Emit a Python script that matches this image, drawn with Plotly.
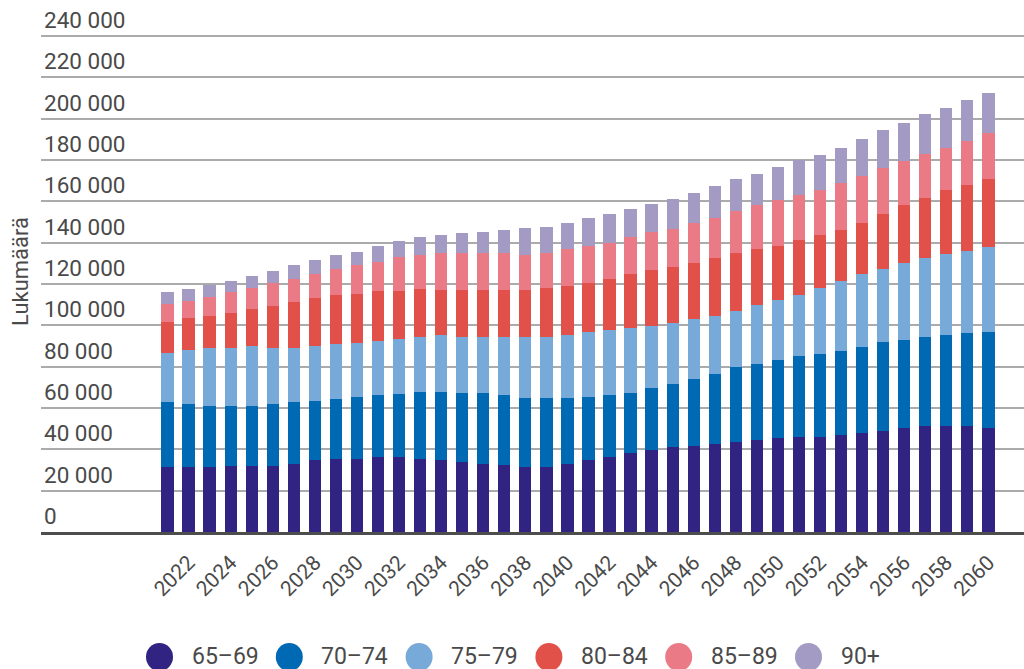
import plotly.graph_objects as go

years = list(range(2021, 2061))
groups = ["65–69", "70–74", "75–79", "80–84", "85–89", "90+"]
colors = ["#312382", "#0069b4", "#78aad9", "#e2504a", "#ea7b86", "#a39bc4"]

age_65_69 = [31300, 31300, 31300, 32100, 32100, 32100, 33100, 34700, 35500, 35500,
             36500, 36500, 35500, 34700, 34100, 33100, 32300, 31500, 31500, 33100,
             34900, 36500, 38300, 39900, 40900, 41700, 42500, 43500, 44300, 45300,
             46100, 46100, 46900, 47700, 48700, 50300, 51100, 51100, 51100, 50300]
age_70_74 = [31500, 30600, 29800, 29000, 29000, 29800, 29700, 28900, 29000, 29800,
             29700, 30500, 32300, 33100, 33100, 34100, 34100, 33100, 33100, 31500,
             30500, 29900, 28900, 29900, 30500, 32300, 34100, 36400, 37200, 38000,
             39000, 39800, 40600, 41600, 43200, 42400, 43400, 44200, 45000, 46600]
age_75_79 = [23700, 26300, 27900, 27900, 28700, 27100, 26300, 26300, 26300, 26300,
             26300, 26300, 26500, 27300, 27100, 27100, 27900, 29700, 29700, 30500,
             31500, 31300, 31300, 29700, 29700, 28900, 27900, 27200, 28100, 28900,
             29700, 32200, 34000, 35600, 35600, 37400, 38100, 39000, 39800, 40800]
age_80_84 = [15300, 15300, 15300, 17100, 17900, 20500, 22100, 23100, 23700, 23700,
             23900, 23200, 23100, 22200, 22900, 22900, 22900, 22900, 23700, 23700,
             23700, 24700, 26300, 27100, 27100, 27100, 28100, 28100, 27200, 26400,
             26300, 25500, 24700, 24700, 26300, 27900, 28900, 31400, 32200, 33100]
age_85_89 = [8600, 8400, 9400, 10200, 10200, 11000, 11100, 11900, 12800, 13800,
             14400, 16700, 16800, 17700, 17800, 17800, 17800, 17000, 17000, 17900,
             17800, 17600, 17900, 18700, 18600, 19500, 19500, 20300, 21300, 21900,
             22100, 22100, 22900, 22900, 22100, 21300, 21300, 20300, 21300, 22300]
age_90_plus = [5800, 5800, 6000, 5000, 6000, 6000, 6800, 6800, 6800, 6600,
               7800, 7800, 8700, 8700, 9500, 10200, 11100, 12800, 12800, 12800,
               13600, 13700, 13600, 13400, 14500, 14400, 15300, 15300, 15200, 16100,
               16600, 16800, 16900, 17700, 18500, 18500, 19500, 19400, 19500, 19300]

series = [age_65_69, age_70_74, age_75_79, age_80_84, age_85_89, age_90_plus]

tick_years = list(range(2022, 2061, 2))
tick_text = [str(y) for y in tick_years]
y_ticks = list(range(0, 240001, 20000))
y_tick_text = [f"{v:,}".replace(",", " ") for v in y_ticks]

# plot area in pixels: x 41..1024, y 2..532
PL, PR, PT, PB = 41, 1024, 2, 532
W, H = 1024, 669
def px_x(px):
    return (px - PL) / (PR - PL)
def px_y(py):
    return (PB - py) / (PB - PT)

fig = go.Figure()
for name, col, vals in zip(groups, colors, series):
    fig.add_trace(go.Bar(
        x=years, y=vals, name=name, marker_color=col, marker_line_width=0,
        width=0.585, showlegend=False,
    ))

# custom legend: large circles + text, laid out in one row under the chart
shapes = []
annotations = []
for i, (name, col) in enumerate(zip(groups, colors)):
    cx = 159.5 + 129.8 * i
    cy = 657
    shapes.append(dict(
        type="circle", xref="paper", yref="paper", xsizemode="pixel", ysizemode="pixel",
        xanchor=px_x(cx), yanchor=px_y(cy), x0=-13.5, x1=13.5, y0=-14, y1=14,
        fillcolor=col, line=dict(width=0), layer="above",
    ))
    annotations.append(dict(
        text=name, xref="paper", yref="paper", x=px_x(cx + 30), y=px_y(cy - 1),
        xanchor="left", yanchor="middle", showarrow=False,
        font=dict(size=23, color="#4a4a4a", family="Roboto"),
    ))

annotations.append(dict(
    text="Lukumäärä", xref="paper", yref="paper", x=px_x(20), y=px_y(272),
    xanchor="center", yanchor="middle", textangle=-90, showarrow=False,
    font=dict(size=22, color="#4a4a4a", family="Roboto"),
))

x_left = 2021 - (167.7 - PL) / 21.07
x_right = 2060 + (PR - 988.3) / 21.07
fig.update_layout(
    barmode="stack",
    width=W, height=H,
    margin=dict(l=PL, r=W - PR, t=PT, b=H - PB, autoexpand=False),
    paper_bgcolor="white", plot_bgcolor="white",
    font=dict(family="Roboto", color="#4a4a4a"),
    showlegend=False,
    shapes=shapes,
    annotations=annotations,
)
fig.update_xaxes(
    range=[x_left, x_right], tickmode="array", tickvals=tick_years, ticktext=tick_text,
    tickangle=-45, tickfont=dict(size=21, color="#4a4a4a"), showgrid=False,
    showline=True, linecolor="#4d4d4d", linewidth=3, ticks="", ticklabelstandoff=7,
    automargin=False,
)
y_top = 240000 * (PB - PT) / 496.0
fig.update_yaxes(
    range=[0, y_top], tickmode="array", tickvals=y_ticks, ticktext=y_tick_text,
    ticklabelposition="inside top", tickfont=dict(size=22.5, color="#4a4a4a"),
    showgrid=True, gridcolor="#ababab", gridwidth=2, zeroline=False, ticks="",
    automargin=False,
)

fig.write_html("out.html")
